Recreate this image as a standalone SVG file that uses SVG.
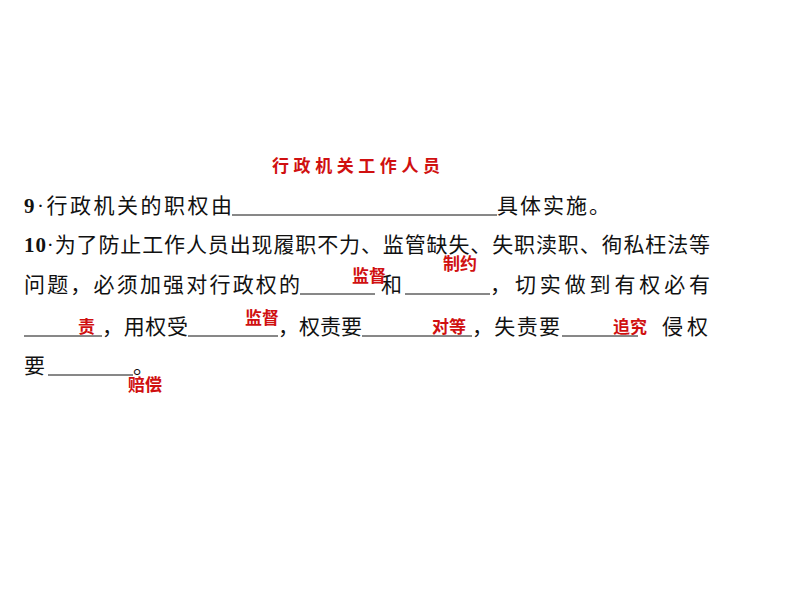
<svg xmlns="http://www.w3.org/2000/svg" width="794" height="596" viewBox="0 0 794 596">
<style>
.t{font-family:"Liberation Serif","Noto Sans CJK SC",serif;font-size:21px;fill:#111}
.b{font-weight:bold}
.r{font-family:"Noto Sans CJK SC",sans-serif;font-size:17px;font-weight:bold;fill:#d01010}
.u{stroke:#111;stroke-width:1}
</style>
<rect width="794" height="596" fill="#fff"/>
<text class="r" x="272" y="172" textLength="168">行政机关工作人员</text>
<text class="t" x="24" y="213" textLength="208"><tspan class="b">9</tspan>·行政机关的职权由</text>
<line class="u" x1="232" y1="215" x2="497" y2="215"/>
<text class="t" x="497" y="213" textLength="113">具体实施。</text>
<text class="t" x="24" y="252" textLength="686"><tspan class="b">10</tspan>·为了防止工作人员出现履职不力、监管缺失、失职渎职、徇私枉法等</text>
<text class="t" x="24" y="292" textLength="276">问题，必须加强对行政权的</text>
<line class="u" x1="300" y1="294" x2="375" y2="294"/>
<text class="t" x="381" y="292">和</text>
<line class="u" x1="405" y1="294" x2="490" y2="294"/>
<text class="t" x="490" y="292" textLength="220">，切实做到有权必有</text>
<line class="u" x1="24" y1="336" x2="102" y2="336"/>
<text class="t" x="102" y="334" textLength="86">，用权受</text>
<line class="u" x1="188" y1="336" x2="278" y2="336"/>
<text class="t" x="278" y="334" textLength="84">，权责要</text>
<line class="u" x1="362" y1="336" x2="472" y2="336"/>
<text class="t" x="472" y="334" textLength="88">，失责要</text>
<line class="u" x1="562" y1="336" x2="638" y2="336"/>
<text class="t" x="662" y="334" textLength="46">侵权</text>
<text class="t" x="24" y="373">要</text>
<line class="u" x1="48" y1="375" x2="133" y2="375"/>
<text class="t" x="133" y="373">。</text>
<text class="r" x="352" y="282">监督</text>
<text class="r" x="443" y="270">制约</text>
<text class="r" x="78" y="333">责</text>
<text class="r" x="245" y="324">监督</text>
<text class="r" x="432" y="333">对等</text>
<text class="r" x="613" y="333">追究</text>
<text class="r" x="128" y="391">赔偿</text>
</svg>
